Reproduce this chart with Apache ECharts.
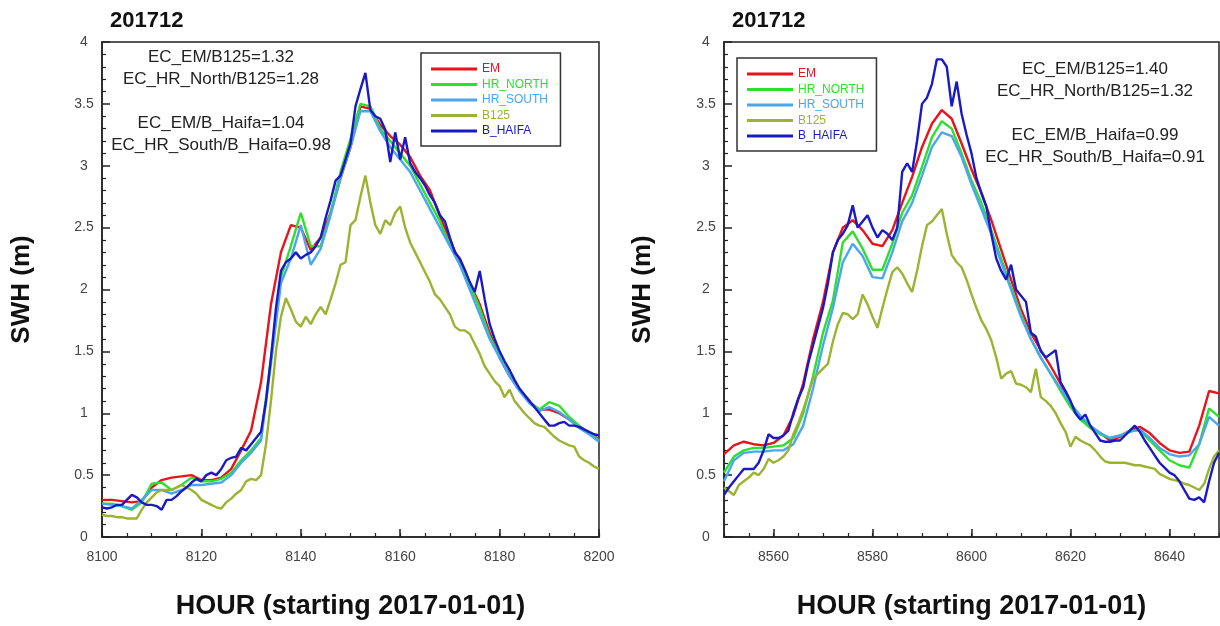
<!DOCTYPE html>
<html>
<head>
<meta charset="utf-8">
<title>201712 SWH</title>
<script src="https://cdn.jsdelivr.net/npm/echarts@6.0.0/dist/echarts.min.js"></script>
<style>
  html, body { margin: 0; padding: 0; background: #fff; }
  #chart { width: 1220px; height: 626px; }
</style>
</head>
<body>
<div id="chart"></div>
<script>
// hour grid helper (model runs every 2 h, buoys every hour)
const range = (a, b, step) => {
  const out = [];
  for (let h = a; h <= b; h += step) out.push(h);
  return out;
};
const hoursL2 = range(8100, 8200, 2);
const hoursL1 = range(8100, 8200, 1);
const hoursR2 = range(8550, 8650, 2);
const hoursR1 = range(8550, 8650, 1);

const tickLabelsL = [8100, 8120, 8140, 8160, 8180, 8200];
const tickLabelsR = [8560, 8580, 8600, 8620, 8640];

const names = ["EM", "HR_NORTH", "HR_SOUTH", "B125", "B_HAIFA"];
const colors = ["#e8131b", "#2ee02e", "#4aa6ee", "#9bb331", "#1a1ac4"];

// ---- left panel (8100-8200) ----
const emL = [0.30, 0.30, 0.29, 0.28, 0.29, 0.40, 0.46, 0.48, 0.49, 0.50,
  0.46, 0.46, 0.48, 0.55, 0.70, 0.86, 1.25, 1.88, 2.30, 2.52,
  2.50, 2.32, 2.42, 2.62, 2.90, 3.15, 3.48, 3.46, 3.33, 3.24,
  3.17, 3.07, 2.92, 2.80, 2.59, 2.40, 2.22, 2.05, 1.88, 1.65,
  1.45, 1.30, 1.19, 1.09, 1.03, 1.03, 1.00, 0.95, 0.89, 0.84, 0.79];
const hrnL = [0.27, 0.27, 0.25, 0.22, 0.28, 0.43, 0.44, 0.38, 0.42, 0.48,
  0.45, 0.45, 0.47, 0.52, 0.62, 0.70, 0.80, 1.45, 2.10, 2.35,
  2.62, 2.35, 2.35, 2.62, 2.95, 3.22, 3.50, 3.48, 3.30, 3.20,
  3.10, 3.00, 2.85, 2.70, 2.55, 2.36, 2.20, 2.04, 1.85, 1.62,
  1.46, 1.31, 1.19, 1.09, 1.03, 1.09, 1.06, 0.97, 0.90, 0.84, 0.78];
const hrsL = [0.27, 0.26, 0.25, 0.23, 0.30, 0.38, 0.38, 0.35, 0.38, 0.42,
  0.42, 0.43, 0.44, 0.50, 0.60, 0.68, 0.78, 1.40, 2.05, 2.25,
  2.52, 2.20, 2.33, 2.60, 2.90, 3.15, 3.44, 3.44, 3.28, 3.15,
  3.05, 2.95, 2.80, 2.65, 2.50, 2.35, 2.20, 2.00, 1.80, 1.60,
  1.45, 1.30, 1.18, 1.08, 1.02, 1.05, 1.01, 0.95, 0.88, 0.83, 0.77];
const b125L = [0.18, 0.17, 0.17, 0.16, 0.16, 0.15, 0.15, 0.15, 0.22, 0.28,
  0.32, 0.36, 0.38, 0.38, 0.38, 0.40, 0.42, 0.40, 0.38, 0.35,
  0.30, 0.28, 0.26, 0.24, 0.23, 0.28, 0.31, 0.35, 0.38, 0.45,
  0.47, 0.46, 0.50, 0.75, 1.10, 1.50, 1.78, 1.93, 1.84, 1.74,
  1.70, 1.78, 1.72, 1.80, 1.86, 1.80, 1.92, 2.05, 2.20, 2.22,
  2.52, 2.56, 2.75, 2.92, 2.70, 2.52, 2.45, 2.56, 2.52, 2.62,
  2.67, 2.50, 2.38, 2.30, 2.22, 2.14, 2.06, 1.96, 1.92, 1.86,
  1.80, 1.70, 1.67, 1.67, 1.64, 1.56, 1.48, 1.38, 1.32, 1.26,
  1.22, 1.13, 1.19, 1.10, 1.05, 1.00, 0.96, 0.92, 0.90, 0.89,
  0.85, 0.81, 0.78, 0.76, 0.74, 0.73, 0.65, 0.62, 0.60, 0.57, 0.55];
const bhL = [0.24, 0.23, 0.24, 0.26, 0.26, 0.30, 0.34, 0.32, 0.28, 0.26,
  0.26, 0.25, 0.22, 0.30, 0.30, 0.33, 0.37, 0.40, 0.44, 0.47,
  0.45, 0.50, 0.52, 0.50, 0.55, 0.62, 0.64, 0.65, 0.72, 0.70,
  0.75, 0.80, 0.85, 1.10, 1.45, 1.85, 2.15, 2.22, 2.25, 2.30,
  2.25, 2.28, 2.30, 2.35, 2.42, 2.58, 2.72, 2.88, 2.92, 3.05,
  3.18, 3.48, 3.62, 3.75, 3.45, 3.40, 3.38, 3.29, 3.03, 3.27,
  3.05, 3.23, 3.02, 2.95, 2.90, 2.84, 2.76, 2.70, 2.60, 2.55,
  2.42, 2.30, 2.25, 2.16, 2.06, 1.98, 2.15, 1.92, 1.72, 1.60,
  1.50, 1.42, 1.35, 1.27, 1.20, 1.15, 1.10, 1.05, 1.00, 0.95,
  0.90, 0.90, 0.92, 0.93, 0.90, 0.90, 0.89, 0.87, 0.85, 0.83, 0.82];

// ---- right panel (8550-8650) ----
const emR = [0.67, 0.74, 0.77, 0.75, 0.74, 0.76, 0.82, 0.98, 1.24, 1.60,
  1.90, 2.30, 2.50, 2.56, 2.48, 2.37, 2.35, 2.48, 2.70, 2.91,
  3.15, 3.34, 3.45, 3.38, 3.18, 2.97, 2.78, 2.56, 2.32, 2.08,
  1.84, 1.65, 1.51, 1.38, 1.24, 1.06, 0.97, 0.89, 0.84, 0.78,
  0.81, 0.86, 0.89, 0.84, 0.76, 0.70, 0.68, 0.69, 0.90, 1.18, 1.16];
const hrnR = [0.52, 0.65, 0.70, 0.72, 0.72, 0.73, 0.74, 0.80, 1.00, 1.30,
  1.65, 1.91, 2.38, 2.47, 2.33, 2.16, 2.16, 2.37, 2.62, 2.76,
  2.99, 3.23, 3.36, 3.30, 3.10, 2.88, 2.70, 2.48, 2.25, 2.02,
  1.80, 1.60, 1.45, 1.32, 1.18, 1.05, 0.95, 0.88, 0.83, 0.80,
  0.82, 0.86, 0.86, 0.78, 0.70, 0.62, 0.58, 0.56, 0.75, 1.04, 0.97];
const hrsR = [0.45, 0.62, 0.68, 0.69, 0.69, 0.70, 0.70, 0.75, 0.90, 1.20,
  1.55, 1.85, 2.22, 2.37, 2.27, 2.10, 2.09, 2.30, 2.55, 2.70,
  2.92, 3.15, 3.27, 3.24, 3.07, 2.85, 2.65, 2.45, 2.22, 2.00,
  1.78, 1.60, 1.45, 1.32, 1.20, 1.08, 0.98, 0.90, 0.84, 0.80,
  0.82, 0.85, 0.87, 0.80, 0.72, 0.67, 0.65, 0.66, 0.75, 0.97, 0.90];
const b125R = [0.40, 0.37, 0.34, 0.42, 0.45, 0.48, 0.52, 0.50, 0.55, 0.63,
  0.60, 0.62, 0.65, 0.70, 0.83, 0.92, 1.03, 1.15, 1.28, 1.32,
  1.36, 1.40, 1.58, 1.72, 1.81, 1.80, 1.76, 1.80, 1.96, 1.88,
  1.78, 1.69, 1.85, 2.00, 2.14, 2.18, 2.13, 2.05, 1.98, 2.15,
  2.35, 2.52, 2.55, 2.60, 2.65, 2.45, 2.28, 2.22, 2.18, 2.08,
  1.96, 1.85, 1.75, 1.68, 1.59, 1.45, 1.28, 1.32, 1.34, 1.24,
  1.23, 1.21, 1.17, 1.36, 1.13, 1.10, 1.06, 1.00, 0.92, 0.85,
  0.73, 0.81, 0.78, 0.76, 0.74, 0.70, 0.65, 0.61, 0.60, 0.60,
  0.60, 0.60, 0.59, 0.58, 0.58, 0.57, 0.56, 0.55, 0.51, 0.49,
  0.47, 0.46, 0.45, 0.43, 0.42, 0.40, 0.38, 0.43, 0.55, 0.65, 0.70];
const bhR = [0.34, 0.40, 0.45, 0.50, 0.55, 0.55, 0.55, 0.60, 0.70, 0.83,
  0.80, 0.80, 0.82, 0.86, 1.00, 1.12, 1.21, 1.40, 1.55, 1.70,
  1.85, 2.05, 2.30, 2.40, 2.45, 2.52, 2.68, 2.50, 2.55, 2.60,
  2.50, 2.42, 2.48, 2.45, 2.40, 2.50, 2.95, 3.02, 2.95, 3.20,
  3.50, 3.55, 3.66, 3.86, 3.86, 3.80, 3.48, 3.68, 3.42, 3.25,
  3.10, 2.90, 2.78, 2.67, 2.45, 2.25, 2.15, 2.08, 2.20, 2.00,
  1.95, 1.90, 1.65, 1.62, 1.50, 1.45, 1.48, 1.51, 1.25, 1.18,
  1.10, 1.00, 0.95, 0.99, 0.90, 0.84, 0.78, 0.77, 0.77, 0.78,
  0.78, 0.82, 0.86, 0.90, 0.85, 0.78, 0.72, 0.66, 0.60, 0.56,
  0.52, 0.50, 0.45, 0.38, 0.31, 0.30, 0.32, 0.28, 0.45, 0.60, 0.68];

const pairs = (hours, vals) => hours.map((h, i) => [h, vals[i]]);

const panelData = [
  [pairs(hoursL2, emL), pairs(hoursL2, hrnL), pairs(hoursL2, hrsL), pairs(hoursL1, b125L), pairs(hoursL1, bhL)],
  [pairs(hoursR2, emR), pairs(hoursR2, hrnR), pairs(hoursR2, hrsR), pairs(hoursR1, b125R), pairs(hoursR1, bhR)]
];

const font = "Liberation Sans";
const axisColor = "#222";

// one data axis (major ticks + labels) and one overlay axis for the 5 h minor ticks
const makeXAxes = (gridIndex, min, max, majors) => [
  {
    gridIndex: gridIndex,
    type: "value",
    min: min,
    max: max,
    position: "bottom",
    name: "HOUR (starting 2017-01-01)",
    nameLocation: "middle",
    nameGap: 56,
    nameTextStyle: { fontFamily: font, fontWeight: "bold", fontSize: 27, color: "#111" },
    axisLine: { lineStyle: { color: axisColor, width: 1.5 } },
    axisTick: { inside: true, length: 8, customValues: majors, lineStyle: { color: axisColor, width: 1.5 } },
    axisLabel: {
      customValues: majors,
      margin: 13,
      fontFamily: font,
      fontSize: 14,
      color: "#444",
      formatter: (v) => String(v)
    },
    splitLine: { show: false }
  },
  {
    gridIndex: gridIndex,
    type: "value",
    min: min,
    max: max,
    interval: 5,
    position: "bottom",
    axisLine: { show: false },
    axisTick: { inside: true, length: 4, lineStyle: { color: axisColor, width: 1.2 } },
    axisLabel: { show: false },
    splitLine: { show: false }
  }
];

const makeYAxis = (gridIndex, gap) => ({
  gridIndex: gridIndex,
  type: "value",
  min: 0,
  max: 4,
  interval: 0.5,
  name: "SWH (m)",
  nameLocation: "middle",
  nameGap: gap,
  nameTextStyle: { fontFamily: font, fontWeight: "bold", fontSize: 26, color: "#111" },
  axisLine: { show: true, lineStyle: { color: axisColor, width: 1.5 } },
  axisTick: { inside: true, length: 8, lineStyle: { color: axisColor, width: 1.5 } },
  minorTick: { show: true, splitNumber: 5, length: 4, lineStyle: { color: axisColor, width: 1.2 } },
  axisLabel: { align: "center", margin: 18, fontFamily: font, fontSize: 14, color: "#444" },
  splitLine: { show: false },
  minorSplitLine: { show: false }
});

const makeLegend = (left, top) => ({
  orient: "vertical",
  left: left,
  top: top,
  icon: "rect",
  itemWidth: 46,
  itemHeight: 3,
  itemGap: 3.5,
  padding: [10, 12, 9, 10],
  borderColor: "#333",
  borderWidth: 1.5,
  textStyle: { fontFamily: font, fontSize: 12 },
  data: names.map((n, i) => ({ name: n, textStyle: { color: colors[i] } }))
});

const series = [];
panelData.forEach((lines, p) => {
  lines.forEach((d, i) => {
    series.push({
      name: names[i],
      type: "line",
      xAxisIndex: p * 2,
      yAxisIndex: p,
      data: d,
      symbol: "none",
      showSymbol: false,
      silent: true,
      lineStyle: { color: colors[i], width: 2.4 },
      itemStyle: { color: colors[i] }
    });
  });
});

// ratio annotations
const noteStyle = { font: "17px 'Liberation Sans'", fill: "#222", textAlign: "center", textVerticalAlign: "middle" };
const notes = [
  ["EC_EM/B125=1.32", 221, 57], ["EC_HR_North/B125=1.28", 221, 79],
  ["EC_EM/B_Haifa=1.04", 221, 123], ["EC_HR_South/B_Haifa=0.98", 221, 145],
  ["EC_EM/B125=1.40", 1095, 69], ["EC_HR_North/B125=1.32", 1095, 91],
  ["EC_EM/B_Haifa=0.99", 1095, 135], ["EC_HR_South/B_Haifa=0.91", 1095, 157]
];

const chart = echarts.init(document.getElementById("chart"), null, { renderer: "canvas" });
chart.setOption({
  animation: false,
  backgroundColor: "#fff",
  title: [
    { text: "201712", left: 105, top: 5, textStyle: { fontFamily: font, fontWeight: "bold", fontSize: 22, color: "#111" } },
    { text: "201712", left: 727, top: 5, textStyle: { fontFamily: font, fontWeight: "bold", fontSize: 22, color: "#111" } }
  ],
  legend: [makeLegend(421, 53), makeLegend(737, 58)],
  grid: [
    { left: 102, top: 42, width: 497, height: 495, show: true, borderColor: axisColor, borderWidth: 1.5, backgroundColor: "transparent" },
    { left: 724, top: 42, width: 495, height: 495, show: true, borderColor: axisColor, borderWidth: 1.5, backgroundColor: "transparent" }
  ],
  xAxis: makeXAxes(0, 8100, 8200, tickLabelsL).concat(makeXAxes(1, 8550, 8650, tickLabelsR)),
  yAxis: [makeYAxis(0, 67), makeYAxis(1, 68)],
  graphic: notes.map((n) => ({
    type: "text",
    x: n[1],
    y: n[2],
    style: Object.assign({ text: n[0] }, noteStyle)
  })),
  series: series
});
</script>
</body>
</html>
